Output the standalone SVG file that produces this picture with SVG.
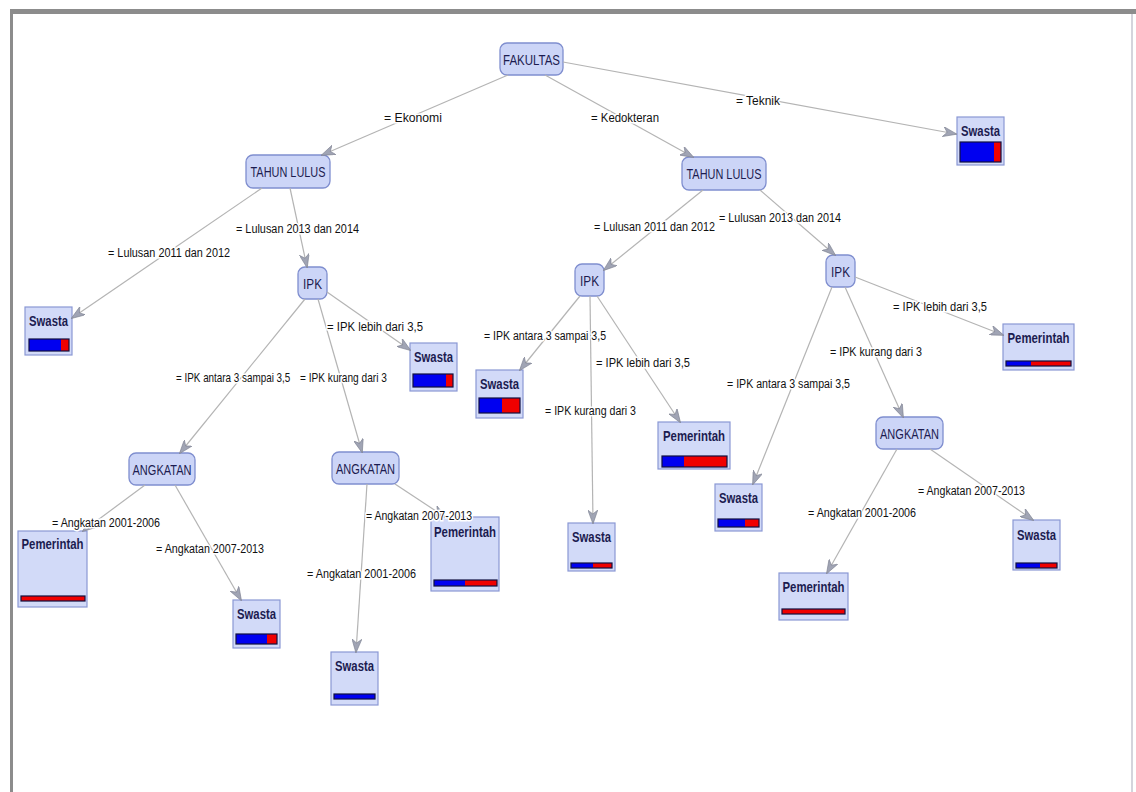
<svg xmlns="http://www.w3.org/2000/svg" width="1136" height="792" viewBox="0 0 1136 792">
<defs>
<style>
.inner{fill:#ccd5f7;stroke:#7f8ecf;stroke-width:1.3}
.leaf{fill:#d2daf8;stroke:#8a98d4;stroke-width:1.2}
.nt{font-family:"Liberation Sans",Arial,sans-serif;font-size:15px;fill:#1c1c50;text-anchor:middle}
.lt{font-family:"Liberation Sans",Arial,sans-serif;font-size:15px;font-weight:bold;fill:#1c1c50;text-anchor:middle}
.el{font-family:"Liberation Sans",Arial,sans-serif;font-size:12.5px;fill:#111;paint-order:stroke;stroke:#fff;stroke-width:3px}
.e{stroke:#b4b4b4;stroke-width:1.2;fill:none;marker-end:url(#ah)}
.b{fill:#0000f0}
.r{fill:#f00000}
.bo{fill:none;stroke:#101040;stroke-width:1.2}
</style>
<marker id="ah" viewBox="0 0 14 10" refX="13" refY="5" markerWidth="14" markerHeight="10" markerUnits="userSpaceOnUse" orient="auto">
<path d="M0,0 L14,5 L0,10 L4,5 z" fill="#a0a4b4" stroke="#7c8090" stroke-width="0.6"/>
</marker>
</defs>
<rect width="1136" height="792" fill="#fff"/>
<rect x="10" y="9" width="1126" height="5" fill="#8c8c8c"/>
<rect x="10" y="9" width="3" height="783" fill="#8c8c8c"/>
<rect x="1131" y="14" width="2" height="778" fill="#d4d4dc"/>

<g id="n-fakultas"><rect class="inner" x="500" y="43" width="63" height="32" rx="7"/><text class="nt" x="531.5" y="65" textLength="57" lengthAdjust="spacingAndGlyphs">FAKULTAS</text></g>
<g id="n-tahun-l"><rect class="inner" x="246" y="155" width="84" height="33" rx="7"/><text class="nt" x="288" y="177" textLength="75" lengthAdjust="spacingAndGlyphs">TAHUN LULUS</text></g>
<g id="n-tahun-r"><rect class="inner" x="682" y="157" width="84" height="33" rx="7"/><text class="nt" x="724" y="179" textLength="75" lengthAdjust="spacingAndGlyphs">TAHUN LULUS</text></g>
<g id="n-ipk-l"><rect class="inner" x="298" y="267" width="29" height="32" rx="7"/><text class="nt" x="312.5" y="289" textLength="19" lengthAdjust="spacingAndGlyphs">IPK</text></g>
<g id="n-ipk-rl"><rect class="inner" x="575" y="264" width="29" height="32" rx="7"/><text class="nt" x="589.5" y="286" textLength="19" lengthAdjust="spacingAndGlyphs">IPK</text></g>
<g id="n-ipk-rr"><rect class="inner" x="826" y="255" width="29" height="32" rx="7"/><text class="nt" x="840.5" y="277" textLength="19" lengthAdjust="spacingAndGlyphs">IPK</text></g>
<g id="n-angk-l"><rect class="inner" x="129" y="453" width="66" height="32" rx="7"/><text class="nt" x="162" y="475" textLength="59" lengthAdjust="spacingAndGlyphs">ANGKATAN</text></g>
<g id="n-angk-m"><rect class="inner" x="332" y="452" width="67" height="32" rx="7"/><text class="nt" x="365.5" y="474" textLength="59" lengthAdjust="spacingAndGlyphs">ANGKATAN</text></g>
<g id="n-angk-r"><rect class="inner" x="876" y="417" width="67" height="32" rx="7"/><text class="nt" x="909.5" y="439" textLength="59" lengthAdjust="spacingAndGlyphs">ANGKATAN</text></g>

<g id="l-teknik"><rect class="leaf" x="957" y="117" width="47" height="48"/><text class="lt" x="980.5" y="136" textLength="39" lengthAdjust="spacingAndGlyphs">Swasta</text><rect class="b" x="960" y="142" width="34" height="20"/><rect class="r" x="994" y="142" width="7" height="20"/><rect class="bo" x="960" y="142" width="41" height="20"/></g>
<g id="l-sw1"><rect class="leaf" x="25" y="307" width="47" height="48"/><text class="lt" x="48.5" y="326" textLength="39" lengthAdjust="spacingAndGlyphs">Swasta</text><rect class="b" x="29" y="339" width="32" height="12"/><rect class="r" x="61" y="339" width="8" height="12"/><rect class="bo" x="29" y="339" width="40" height="12"/></g>
<g id="l-sw2"><rect class="leaf" x="410" y="343" width="47" height="48"/><text class="lt" x="433.5" y="362" textLength="39" lengthAdjust="spacingAndGlyphs">Swasta</text><rect class="b" x="413" y="374" width="33" height="13"/><rect class="r" x="446" y="374" width="7" height="13"/><rect class="bo" x="413" y="374" width="40" height="13"/></g>
<g id="l-pem1"><rect class="leaf" x="18" y="531" width="69" height="76"/><text class="lt" x="52.5" y="549" textLength="62" lengthAdjust="spacingAndGlyphs">Pemerintah</text><rect class="r" x="21" y="596" width="64" height="5"/><rect class="bo" x="21" y="596" width="64" height="5"/></g>
<g id="l-sw3"><rect class="leaf" x="233" y="600" width="47" height="48"/><text class="lt" x="256.5" y="619" textLength="39" lengthAdjust="spacingAndGlyphs">Swasta</text><rect class="b" x="236" y="634" width="31" height="10"/><rect class="r" x="267" y="634" width="10" height="10"/><rect class="bo" x="236" y="634" width="41" height="10"/></g>
<g id="l-sw4"><rect class="leaf" x="331" y="652" width="47" height="53"/><text class="lt" x="354.5" y="671" textLength="39" lengthAdjust="spacingAndGlyphs">Swasta</text><rect class="b" x="334" y="694" width="41" height="5"/><rect class="bo" x="334" y="694" width="41" height="5"/></g>
<g id="l-pem2"><rect class="leaf" x="431" y="517" width="68" height="74"/><text class="lt" x="465" y="537" textLength="62" lengthAdjust="spacingAndGlyphs">Pemerintah</text><rect class="b" x="434" y="580" width="31" height="6"/><rect class="r" x="465" y="580" width="32" height="6"/><rect class="bo" x="434" y="580" width="63" height="6"/></g>
<g id="l-sw5"><rect class="leaf" x="476" y="370" width="47" height="48"/><text class="lt" x="499.5" y="389" textLength="39" lengthAdjust="spacingAndGlyphs">Swasta</text><rect class="b" x="479" y="398" width="23" height="15"/><rect class="r" x="502" y="398" width="18" height="15"/><rect class="bo" x="479" y="398" width="41" height="15"/></g>
<g id="l-pem3"><rect class="leaf" x="658" y="422" width="72" height="47"/><text class="lt" x="694" y="441" textLength="62" lengthAdjust="spacingAndGlyphs">Pemerintah</text><rect class="b" x="662" y="456" width="22" height="11"/><rect class="r" x="684" y="456" width="43" height="11"/><rect class="bo" x="662" y="456" width="65" height="11"/></g>
<g id="l-sw6"><rect class="leaf" x="568" y="523" width="47" height="48"/><text class="lt" x="591.5" y="542" textLength="39" lengthAdjust="spacingAndGlyphs">Swasta</text><rect class="b" x="571" y="563" width="22" height="5"/><rect class="r" x="593" y="563" width="19" height="5"/><rect class="bo" x="571" y="563" width="41" height="5"/></g>
<g id="l-sw7"><rect class="leaf" x="715" y="484" width="47" height="47"/><text class="lt" x="738.5" y="503" textLength="39" lengthAdjust="spacingAndGlyphs">Swasta</text><rect class="b" x="718" y="519" width="27" height="8"/><rect class="r" x="745" y="519" width="14" height="8"/><rect class="bo" x="718" y="519" width="41" height="8"/></g>
<g id="l-pem4"><rect class="leaf" x="1003" y="324" width="71" height="46"/><text class="lt" x="1038.5" y="343" textLength="62" lengthAdjust="spacingAndGlyphs">Pemerintah</text><rect class="b" x="1006" y="361" width="25" height="5"/><rect class="r" x="1031" y="361" width="40" height="5"/><rect class="bo" x="1006" y="361" width="65" height="5"/></g>
<g id="l-pem5"><rect class="leaf" x="779" y="573" width="69" height="47"/><text class="lt" x="813.5" y="592" textLength="62" lengthAdjust="spacingAndGlyphs">Pemerintah</text><rect class="r" x="782" y="609" width="63" height="5"/><rect class="bo" x="782" y="609" width="63" height="5"/></g>
<g id="l-sw8"><rect class="leaf" x="1013" y="520" width="47" height="50"/><text class="lt" x="1036.5" y="540" textLength="39" lengthAdjust="spacingAndGlyphs">Swasta</text><rect class="b" x="1016" y="563" width="24" height="5"/><rect class="r" x="1040" y="563" width="17" height="5"/><rect class="bo" x="1016" y="563" width="41" height="5"/></g>

<g id="connectors">
<line class="e" x1="508" y1="75" x2="322" y2="155"/>
<line class="e" x1="545" y1="75" x2="693" y2="157"/>
<line class="e" x1="563" y1="62" x2="956" y2="134"/>
<line class="e" x1="262" y1="188" x2="72" y2="318"/>
<line class="e" x1="290" y1="188" x2="307" y2="267"/>
<line class="e" x1="327" y1="292" x2="410" y2="350"/>
<line class="e" x1="305" y1="299" x2="180" y2="453"/>
<line class="e" x1="318" y1="299" x2="362" y2="452"/>
<line class="e" x1="145" y1="485" x2="83" y2="531"/>
<line class="e" x1="175" y1="485" x2="241" y2="600"/>
<line class="e" x1="367" y1="484" x2="356" y2="652"/>
<line class="e" x1="395" y1="484" x2="445" y2="517"/>
<line class="e" x1="703" y1="190" x2="604" y2="270"/>
<line class="e" x1="760" y1="190" x2="835" y2="255"/>
<line class="e" x1="580" y1="296" x2="520" y2="370"/>
<line class="e" x1="597" y1="296" x2="680" y2="422"/>
<line class="e" x1="590" y1="296" x2="593" y2="523"/>
<line class="e" x1="855" y1="277" x2="1003" y2="335"/>
<line class="e" x1="845" y1="287" x2="903" y2="417"/>
<line class="e" x1="832" y1="287" x2="753" y2="484"/>
<line class="e" x1="897" y1="449" x2="827" y2="573"/>
<line class="e" x1="930" y1="449" x2="1033" y2="520"/>
<text class="el" x="384" y="122" textLength="58" lengthAdjust="spacingAndGlyphs">= Ekonomi</text>
<text class="el" x="591" y="122" textLength="68" lengthAdjust="spacingAndGlyphs">= Kedokteran</text>
<text class="el" x="736" y="105" textLength="44" lengthAdjust="spacingAndGlyphs">= Teknik</text>
<text class="el" x="108" y="257" textLength="122" lengthAdjust="spacingAndGlyphs">= Lulusan 2011 dan 2012</text>
<text class="el" x="236" y="233" textLength="123" lengthAdjust="spacingAndGlyphs">= Lulusan 2013 dan 2014</text>
<text class="el" x="327" y="331" textLength="96" lengthAdjust="spacingAndGlyphs">= IPK lebih dari 3,5</text>
<text class="el" transform="translate(176,382) scale(0.79,1)">= IPK antara 3 sampai 3,5</text>
<text class="el" transform="translate(300,382) scale(0.81,1)">= IPK kurang dari 3</text>
<text class="el" x="52" y="527" textLength="108" lengthAdjust="spacingAndGlyphs">= Angkatan 2001-2006</text>
<text class="el" x="156" y="553" textLength="108" lengthAdjust="spacingAndGlyphs">= Angkatan 2007-2013</text>
<text class="el" x="307" y="578" textLength="109" lengthAdjust="spacingAndGlyphs">= Angkatan 2001-2006</text>
<text class="el" x="366" y="520" textLength="106" lengthAdjust="spacingAndGlyphs">= Angkatan 2007-2013</text>
<text class="el" x="594" y="231" textLength="121" lengthAdjust="spacingAndGlyphs">= Lulusan 2011 dan 2012</text>
<text class="el" x="719" y="222" textLength="122" lengthAdjust="spacingAndGlyphs">= Lulusan 2013 dan 2014</text>
<text class="el" x="484" y="340" textLength="122" lengthAdjust="spacingAndGlyphs">= IPK antara 3 sampai 3,5</text>
<text class="el" x="596" y="367" textLength="94" lengthAdjust="spacingAndGlyphs">= IPK lebih dari 3,5</text>
<text class="el" x="545" y="415" textLength="91" lengthAdjust="spacingAndGlyphs">= IPK kurang dari 3</text>
<text class="el" x="893" y="311" textLength="94" lengthAdjust="spacingAndGlyphs">= IPK lebih dari 3,5</text>
<text class="el" x="830" y="356" textLength="92" lengthAdjust="spacingAndGlyphs">= IPK kurang dari 3</text>
<text class="el" x="727" y="388" textLength="123" lengthAdjust="spacingAndGlyphs">= IPK antara 3 sampai 3,5</text>
<text class="el" x="808" y="517" textLength="108" lengthAdjust="spacingAndGlyphs">= Angkatan 2001-2006</text>
<text class="el" x="918" y="495" textLength="107" lengthAdjust="spacingAndGlyphs">= Angkatan 2007-2013</text>
</g>
</svg>
